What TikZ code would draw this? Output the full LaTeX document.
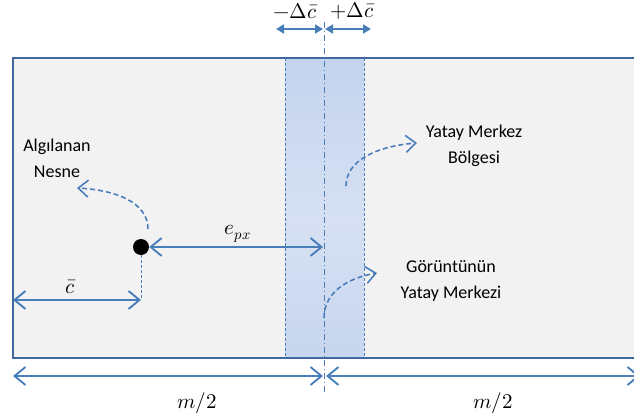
\documentclass[tikz,border=0pt]{standalone}
\usepackage{fontspec}
\usepackage{unicode-math}
\setmainfont{Carlito}
\setmathfont{Latin Modern Math}
\usetikzlibrary{arrows.meta}
\definecolor{lineblue}{RGB}{74,126,187}
\definecolor{frameblue}{RGB}{65,105,160}
\definecolor{bgray}{RGB}{242,242,242}
\definecolor{bandA}{RGB}{222,230,245}
\definecolor{bandB}{RGB}{196,212,238}
\definecolor{bandC}{RGB}{214,224,242}
\pgfdeclareverticalshading{bandshade}{100bp}{
  color(0bp)=(bandA);
  color(20bp)=(bandB);
  color(48bp)=(bandC);
  color(75bp)=(bandB);
  color(100bp)=(bandA)}
\begin{document}
\begin{tikzpicture}[x=1pt,y=-1pt,
  txt/.style={font=\fontsize{18}{22}\selectfont, align=center, inner sep=0pt},
  mth/.style={font=\fontsize{21}{24}\selectfont, inner sep=0pt},
  dimarrow/.style={lineblue, line width=1.9pt, {Straight Barb[length=11pt,width=18pt]}-{Straight Barb[length=11pt,width=18pt]}},
  toparrow/.style={lineblue, line width=1.9pt, {Triangle[length=8pt,width=9pt]}-{Triangle[length=8pt,width=9pt]}},
  curvearrow/.style={lineblue, line width=1.6pt, dash pattern=on 5pt off 3pt, -{Straight Barb[length=10pt,width=17pt]}},
  guide/.style={lineblue, line width=0.9pt, dash pattern=on 3pt off 2pt}]
\useasboundingbox (0,0) rectangle (634,419);
% main frame
\fill[bgray] (13,58) rectangle (640,358);
% band
\shade[shading=bandshade] (285,58) rectangle (364,358);
\draw[frameblue, line width=2.4pt] (640,58) -- (13,58) -- (13,358) -- (640,358);
\draw[guide] (285,58) -- (285,358);
\draw[guide] (364,58) -- (364,358);
% centre line
\coordinate (ctop) at (324,22);
\coordinate (cbot) at (324,393);
\draw[lineblue, line width=0.9pt, dash pattern=on 6pt off 3pt on 1pt off 3pt] (ctop) -- (cbot);
% top arrows
\coordinate (tl) at (276,29);
\coordinate (tc) at (323,29);
\coordinate (tc2) at (325,29);
\coordinate (tr) at (371,29);
\draw[toparrow] (tl) -- (tc);
\draw[toparrow] (tc2) -- (tr);
\node[mth] (dm) at (295,11) {$-\Delta\bar{c}$};
\node[mth] (dp) at (352,11) {$+\Delta\bar{c}$};
% bottom arrows
\coordinate (bl) at (13,376);
\coordinate (bc) at (323,376);
\coordinate (bc2) at (326,376);
\coordinate (br) at (640,376);
\draw[dimarrow] (bl) -- (bc);
\draw[dimarrow] (bc2) -- (br);
\node[mth] (m1) at (197,403) {$m/2$};
\node[mth] (m2) at (493,403) {$m/2$};
% object dot
\node[circle, fill=black, minimum size=16pt, inner sep=0pt] (dot) at (141,247) {};
\coordinate (epxend) at (323,247);
\draw[dimarrow] (dot.east) -- (epxend);
\node[mth] (epx) at (238,234) {$e_{px}$};
% c bar
\coordinate (cl) at (13,300);
\coordinate (cr) at (141,300);
\draw[guide] (dot.south) -- (cr);
\draw[dimarrow] (cl) -- (cr);
\node[mth] (cbar) at (70,287) {$\bar{c}$};
% labels
\node[txt] (alg) at (57,158) {Algılanan\\[4pt]Nesne};
\node[txt] (yme) at (474,146) {Yatay Merkez\\[4pt]Bölgesi};
\node[txt] (gor) at (451,281) {Görüntünün\\[4pt]Yatay Merkezi};
% curved arrows
\coordinate (c1s) at (148,229);
\coordinate (c1e) at (77,188);
\draw[curvearrow] (c1s) .. controls (148,202) and (115,190) .. (c1e);
\coordinate (c2s) at (346,186);
\coordinate (c2e) at (417,143);
\draw[curvearrow] (c2s) .. controls (346,160) and (378,146) .. (c2e);
\coordinate (c3s) at (324,318);
\coordinate (c3e) at (377,273);
\draw[curvearrow] (c3s) .. controls (324,292) and (348,278) .. (c3e);
\end{tikzpicture}
\end{document}
